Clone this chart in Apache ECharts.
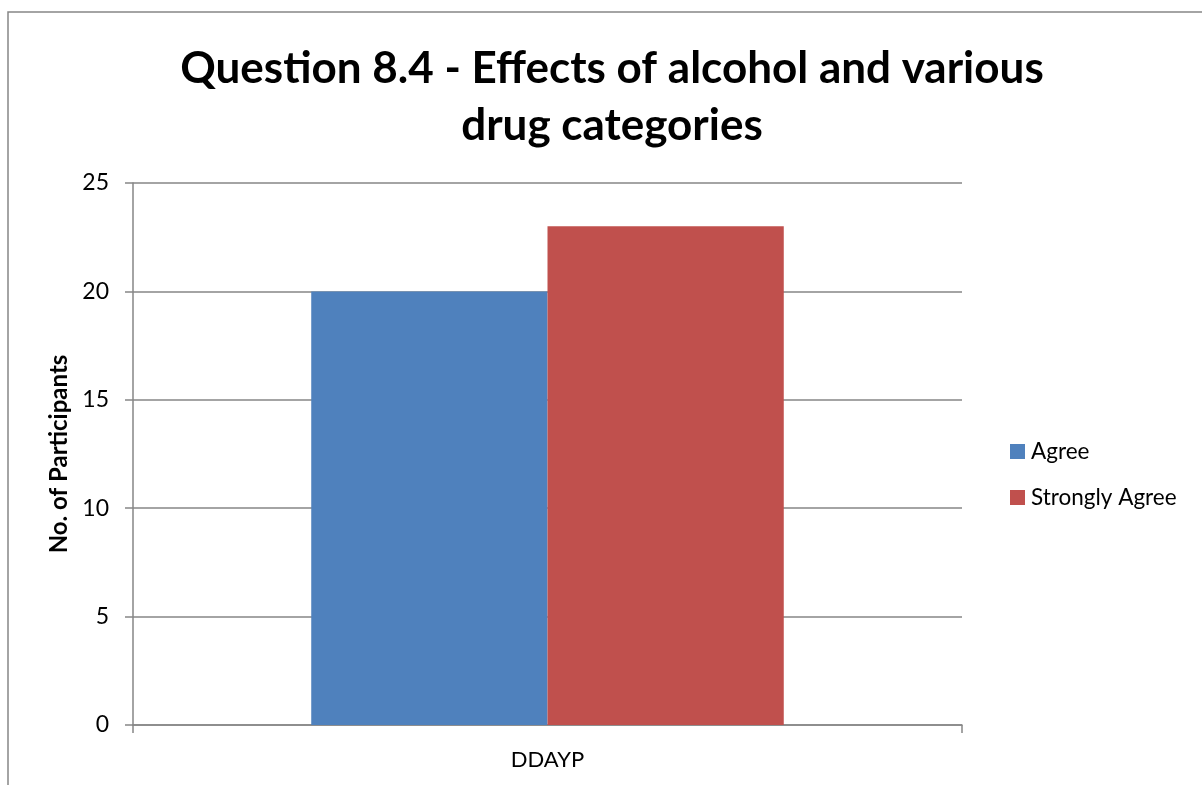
<!DOCTYPE html>
<html>
<head>
<meta charset="utf-8">
<script src="https://cdn.jsdelivr.net/npm/echarts@6/dist/echarts.min.js"></script>
<style>
html,body{margin:0;padding:0;background:#fff;}
#chart{width:1202px;height:785px;}
</style>
</head>
<body>
<div id="chart"></div>
<script>
const categories = ['DDAYP'];
const seriesNames = ['Agree', 'Strongly Agree'];
const agreeValues = [20];
const stronglyAgreeValues = [23];
const yTicks = [0, 5, 10, 15, 20, 25];

const FONT = 'Lato, "Open Sans", sans-serif';
const axisGray = '#868686';

const chart = echarts.init(document.getElementById('chart'));
chart.setOption({
  animation: false,
  backgroundColor: '#fff',
  textStyle: { fontFamily: FONT },
  title: {
    text: 'Question 8.4 - Effects of alcohol and various\ndrug categories',
    left: 607,
    top: 35,
    textAlign: 'center',
    textStyle: { fontFamily: FONT, fontWeight: 'bold', fontSize: 44, lineHeight: 57, color: '#000' }
  },
  legend: {
    orient: 'vertical',
    left: 1005,
    top: 435,
    itemWidth: 15,
    itemHeight: 15,
    itemGap: 23,
    icon: 'rect',
    data: seriesNames,
    textStyle: { fontFamily: FONT, fontSize: 22.5, color: '#000', padding: [0, 0, 0, 1] }
  },
  grid: { left: 133, top: 183, width: 829, height: 542, containLabel: false },
  xAxis: {
    type: 'category',
    data: categories,
    axisLine: { lineStyle: { color: axisGray, width: 1.5 } },
    axisTick: { show: true, alignWithLabel: false, length: 8, lineStyle: { color: axisGray, width: 1.5 } },
    axisLabel: { fontFamily: FONT, fontSize: 22, color: '#000', margin: 24 }
  },
  yAxis: {
    type: 'value',
    min: yTicks[0],
    max: yTicks[yTicks.length - 1],
    interval: 5,
    name: 'No. of Participants',
    nameLocation: 'middle',
    nameGap: 62,
    nameTextStyle: { fontFamily: FONT, fontWeight: 'bold', fontSize: 24, color: '#000' },
    axisLine: { show: true, lineStyle: { color: axisGray, width: 1.5 } },
    axisTick: { show: true, length: 8, lineStyle: { color: axisGray, width: 1.5 } },
    axisLabel: { fontFamily: FONT, fontSize: 23, color: '#000', margin: 24 },
    splitLine: { show: true, lineStyle: { color: axisGray, width: 1.5 } }
  },
  series: [
    { name: seriesNames[0], type: 'bar', data: agreeValues, itemStyle: { color: '#4f81bd' }, barGap: '0%', barCategoryGap: '43%' },
    { name: seriesNames[1], type: 'bar', data: stronglyAgreeValues, itemStyle: { color: '#c0504d' }, barGap: '0%', barCategoryGap: '43%' }
  ],
  graphic: [
    { type: 'rect', silent: true, shape: { x: 8, y: 12, width: 1300, height: 900 }, style: { fill: 'none', stroke: axisGray, lineWidth: 1.5 } }
  ]
});
</script>
</body>
</html>
